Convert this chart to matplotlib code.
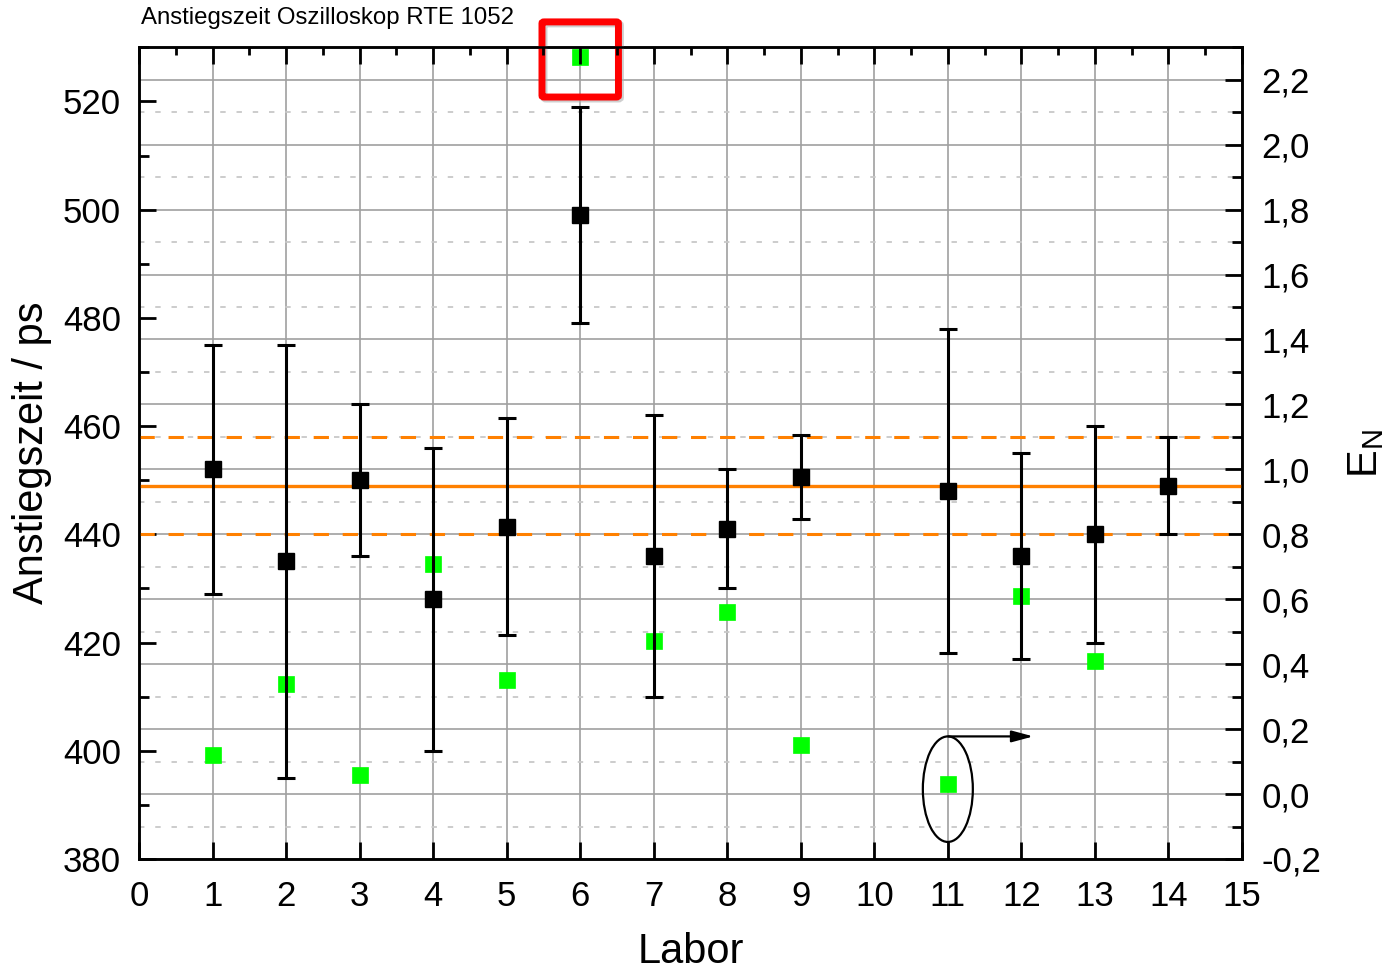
import matplotlib
matplotlib.use("Agg")
import matplotlib.pyplot as plt
from matplotlib.patches import Ellipse, FancyBboxPatch
from matplotlib.ticker import MultipleLocator, FuncFormatter
import matplotlib.transforms as mtransforms

plt.rcParams['font.family'] = ['Liberation Sans', 'DejaVu Sans']
plt.rcParams['mathtext.default'] = 'regular'

# Rise time results per lab (ps) with expanded uncertainty
labs = [1, 2, 3, 4, 5, 6, 7, 8, 9, 11, 12, 13, 14]
rise_time = [452, 435, 450, 428, 441.4, 499, 436, 441, 450.6, 448, 436, 440, 449]
uncertainty = [23, 40, 14, 28, 20, 20, 26, 11, 7.7, 30, 19, 20, 9]

# E_N numbers (right axis)
en_labs = [1, 2, 3, 4, 5, 6, 7, 8, 9, 11, 12, 13]
en_values = [0.12, 0.34, 0.06, 0.71, 0.35, 2.27, 0.47, 0.56, 0.15, 0.03, 0.61, 0.41]

# Reference value and its uncertainty
ref_value = 449
ref_unc = 9

fig = plt.figure(figsize=(13.92, 9.75), dpi=100)
ax1 = fig.add_axes([0.0999, 0.119, 0.7923, 0.8325])
ax2 = ax1.twinx()
# left axis on top so the black points sit above the E_N grid
ax1.set_zorder(ax2.get_zorder() + 1)
ax1.patch.set_visible(False)

ax1.set_xlim(0, 15)
ax1.set_ylim(380, 530)
ax2.set_ylim(-0.2, 2.3)

# all grid lines live on the lower axes (its x axis only serves the grid)
ax2.xaxis.set_visible(True)
ax2.tick_params(axis='x', which='both', bottom=False, top=False,
                labelbottom=False, labeltop=False)
ax2.set_axisbelow(True)
ax2.xaxis.grid(True, which='major', color='#a0a0a0', lw=1.2)
ax2.yaxis.grid(True, which='major', color='#a0a0a0', lw=1.2)
ax2.yaxis.grid(True, which='minor', color='#c8c8c8', lw=1.3, linestyle=(0, (3, 6)))

# reference value band
ax1.axhline(ref_value, color='#ff8000', lw=2.4, zorder=2)
ax1.axhline(ref_value + ref_unc, color='#ff8000', lw=2.2, dashes=(5, 4.5), zorder=2)
ax1.axhline(ref_value - ref_unc, color='#ff8000', lw=2.2, dashes=(5, 4.5), zorder=2)

# green E_N markers
ax2.plot(en_labs, en_values, 's', color='#00ff00', ms=11.5, mec='#00ff00', mew=0.5, zorder=3)

# black lab results with error bars
ax1.errorbar(labs, rise_time, yerr=uncertainty, fmt='s', color='black', ms=12,
             elinewidth=2.2, capsize=6.5, capthick=2.2, zorder=4)

# ticks
ax1.xaxis.set_major_locator(MultipleLocator(1))
ax1.xaxis.set_minor_locator(MultipleLocator(0.5))
ax2.xaxis.set_major_locator(MultipleLocator(1))
ax1.yaxis.set_major_locator(MultipleLocator(20))
ax1.yaxis.set_minor_locator(MultipleLocator(10))
ax2.yaxis.set_major_locator(MultipleLocator(0.2))
ax2.yaxis.set_minor_locator(MultipleLocator(0.1))
ax2.yaxis.set_major_formatter(FuncFormatter(lambda v, p: f"{v:.1f}".replace('.', ',').replace('-0,0', '0,0')))

ax1.tick_params(axis='both', which='major', direction='in', length=12, width=2,
                labelsize=25, top=True)
ax1.tick_params(axis='x', which='major', pad=15)
ax1.tick_params(axis='y', which='major', pad=13)
ax1.tick_params(axis='x', which='minor', direction='in', length=6, width=2,
                top=True, bottom=False)
ax1.tick_params(axis='y', which='minor', direction='in', length=7, width=2)
ax2.tick_params(axis='y', which='major', direction='in', length=12, width=2,
                labelsize=25, pad=14)
ax2.tick_params(axis='y', which='minor', direction='in', length=7, width=2)

for ax in (ax1, ax2):
    for sp in ax.spines.values():
        sp.set_linewidth(1.8)

ax1.set_xlabel('Labor', fontsize=30, labelpad=14)
ax1.set_ylabel('Anstiegszeit / ps', fontsize=30, labelpad=8)
ax2.set_ylabel('E$_N$', fontsize=30, labelpad=18)

fig.text(0.101, 0.982, 'Anstiegszeit Oszilloskop RTE 1052', fontsize=17.3, va='center', ha='left')

# highlight the outlier lab (with a soft drop shadow)
i6 = en_labs.index(6)
box_kw = dict(boxstyle='round,pad=0.02,rounding_size=0.03', fill=False, lw=5,
              clip_on=False, mutation_aspect=0.16)
box_xy = (6 - 0.5, en_values[i6] - 0.12)
shadow_tr = ax2.transData + mtransforms.ScaledTranslation(2 / 100, -2 / 100, fig.dpi_scale_trans)
ax2.add_patch(FancyBboxPatch(box_xy, 1.0, 0.225,
                             ec='#b0b0b0', alpha=0.6, zorder=4.9, transform=shadow_tr, **box_kw))
ax2.add_patch(FancyBboxPatch(box_xy, 1.0, 0.225,
                             ec='#ff0000', zorder=5, transform=ax2.transData, **box_kw))

# mark lab 11 and point to the E_N axis
i11 = en_labs.index(11)
ax2.add_patch(Ellipse((11, en_values[i11] - 0.015), 0.68, 0.325, fill=False,
                      ec='black', lw=1.6, zorder=5))
arrow_y = en_values[i11] - 0.015 + 0.1625
ax2.annotate('', xy=(12.2, arrow_y), xytext=(10.97, arrow_y),
             arrowprops=dict(arrowstyle='-|>,head_length=1.3,head_width=0.35',
                             color='black', lw=1.6), zorder=5)

fig.savefig('out.png', dpi=100)
